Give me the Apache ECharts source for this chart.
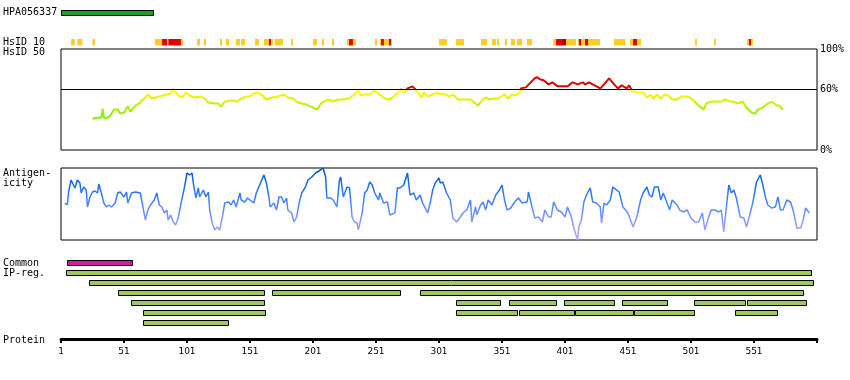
<!DOCTYPE html>
<html><head><meta charset="utf-8">
<script src="https://cdn.jsdelivr.net/npm/echarts@6/dist/echarts.min.js"></script>
<style>html,body{margin:0;padding:0;background:#fff}#c{width:850px;height:380px}</style>
</head><body><div id="c"></div>
<script>
// ---- data (residue positions) ----
const proteinRange = [1, 601];
const tickValues = [1, 51, 101, 151, 201, 251, 301, 351, 401, 451, 501, 551, 601];
const tickLabels = [1, 51, 101, 151, 201, 251, 301, 351, 401, 451, 501, 551];
const hpaBar = [[1, 74]];
// HsID 10 strip: [start, end, level] level 1 = gold, 2 = red, 3 = dark red
const hsid10 = [
  [9,12,1],[14,18,1],[26,28,1],[75.6,81.2,1],[81.2,85.4,2],[85.4,86.2,1],[86.2,96.2,2],[96.2,97.8,1],
  [108.9,111.3,1],[114.5,116.1,1],[127.2,128.8,1],[131.9,134.3,1],[139.9,143,1],[143.9,147,1],
  [155,158.1,1],[162.1,166.1,1],[166.1,167.7,2],[167.7,169.3,1],[170.8,177.2,1],[183.5,185.1,1],
  [201,204.2,1],[208.1,209.7,1],[216.1,217.7,1],[228,229.6,1],[229.6,232.7,2],[232.7,235.1,1],
  [250.2,251.8,1],[254.2,255,1],[255,257.3,2],[257.3,261.3,1],[261.3,262.9,2],[262.9,263.7,1],
  [301,307.3,1],[314.5,320.8,1],[334.3,339.1,1],[343.1,346.2,1],[347,348.6,1],[353.4,355,1],
  [358.1,361.3,1],[362.9,366.9,1],[370.8,374.8,1],[391.5,393.9,1],[393.9,399.4,2],[399.4,401.8,3],
  [401.8,409.7,1],[411.3,412,1],[412,413.7,2],[413.7,416.9,1],[416.9,419.3,2],[419.3,428.8,1],
  [439.9,448.6,1],[452.6,455,1],[455,458.1,2],[458.1,461.3,1],[504.2,505.8,1],[519.3,520.8,1],
  [545.4,547,1],[547,548.6,2],[548.6,550.2,1]
];
// HsID 50 identity (%)
const hsid50 = [
  [26,31],[30,32],[33,32],[34,41],[35,32],[38,32],[40,34],[43,40],[46,40],[48,36],[51,37],[53,41],[54,43],
  [56,38],[58,41],[60,44],[63,46],[66,50],[68,52],[70,55],[73,51],[76,52],[79,53],[82,54],[84,55],[87,55],
  [90,60],[92,57],[95,53],[98,53],[100,57],[103,54],[107,52],[112,53],[115,51],[118,47],[122,46],[126,46],
  [128,43],[131,48],[135,49],[138,49],[141,48],[144,51],[148,53],
  [151,53],[154,56],[157,57],[161,54],[164,50],[168,52],[173,53],[178,55],[181,52],[185,51],[189,47],
  [192,46],[196,45],[201,42],[204,40],[208,47],[213,50],[217,48],[221,50],[225,50],[229,51],[233,54],
  [237,59],[239,54],[242,55],[246,55],[250,59],[254,55],[258,51],[262,50],[266,54],[271,60],[274,57],
  [276,61],[280,63],[283,59],[287,52],[289,57],[292,53],[296,55],[300,57],
  [302,55],[304,56],[309,53],[312,55],[316,50],[321,50],[326,50],[329,47],[332,44],[335,49],[338,52],
  [341,50],[345,51],[348,51],[353,55],[356,51],[359,55],[362,54],[365,57],[366,61],[370,62],[373,66],
  [377,71],[379,72],[381,70],[384,69],[388,65],[391,67],[395,63],[399,63],[403,63],[407,67],[411,65],
  [415,67],[417,65],[420,67],[423,65],[426,63],[429,61],[432,65],[436,71],[440,65],[443,61],[446,64],
  [450,61],[452,64],
  [454,59],[457,57],[460,57],[463,57],[466,52],[469,55],[471,51],[474,55],[477,51],[480,55],[483,54],
  [486,50],[490,50],[494,53],[499,53],[503,49],[507,44],[511,40],[513,46],[517,48],[521,48],[525,48],
  [528,50],[532,48],[535,48],[538,46],[542,48],[545,42],[549,37],[552,36],[554,40],[558,42],[562,46],
  [565,48],[569,44],[571,44],[574,40]
];
// Antigenicity (relative units, 0 = bottom of box)
const antigenicity = [
  [4,37],[6,35],[7,48],[9,60],[10,59],[12,52],[14,60],[16,57],[17,47],[19,53],[21,50],[22,33],[24,43],
  [26,48],[28,49],[30,47],[31,56],[33,47],[35,37],[37,33],[39,35],[41,33],[44,37],[46,47],[48,48],[51,43],
  [53,48],[54,37],[57,47],[60,48],[64,47],[66,33],[68,20],[70,30],[72,35],[75,40],[77,47],[79,35],[81,33],
  [83,27],[85,30],[86,20],[88,25],[90,18],[92,15],[94,22],[96,35],[98,47],[99,53],[101,67],[103,65],
  [105,67],[106,57],[108,42],[110,52],[111,43],[114,50],[116,43],[118,48],[119,30],[121,17],[123,10],
  [125,13],[127,10],[129,23],[131,37],[134,38],[136,35],[138,40],[140,33],[143,47],[144,40],[147,38],
  [149,42],[151,40],[154,37],[156,47],[158,53],[162,65],[164,57],[166,43],[167,33],[170,37],[172,30],
  [174,43],[176,43],[178,37],[180,42],[181,30],[184,27],[186,18],[188,23],[190,37],[192,47],[195,53],
  [197,60],[200,63],[203,67],[204,68],[207,70],[209,72],[211,63],[212,42],[215,42],[217,40],[220,33],
  [222,60],[223,63],[225,43],[228,53],[230,52],[232,23],[234,18],[236,17],[237,10],[240,27],[242,47],
  [244,50],[246,58],[248,55],[250,47],[253,40],[254,47],[257,37],[260,38],[262,25],[263,23],[266,27],
  [268,52],[270,52],[273,55],[276,67],[278,45],[281,47],[283,40],[286,45],[288,37],
  [292,27],[294,37],[296,50],[298,57],[301,62],[302,57],[304,58],[307,47],[308,48],[310,40],[312,22],
  [315,18],[318,23],[320,27],[323,30],[326,40],[327,18],[330,33],[331,25],[334,35],[336,38],[338,30],
  [340,40],[343,35],[346,45],[349,50],[351,55],[353,40],[355,30],[358,32],[361,38],[364,42],[367,37],
  [371,38],[372,48],[375,32],[377,22],[380,23],[383,18],[385,30],[388,23],[390,23],[392,38],[395,30],
  [398,28],[401,23],[403,33],[406,23],[408,12],[411,0],[412,13],[414,20],[416,38],[418,45],[421,52],
  [423,38],[426,37],[429,33],[430,17],[432,37],[434,35],[437,40],[439,53],[442,50],[444,48],[447,33],
  [451,27],[455,13],[458,23],[461,40],[463,47],[466,53],[468,45],[470,43],[472,53],[475,53],[477,40],
  [479,47],[482,37],[484,30],[486,40],[490,35],[492,30],[495,28],[498,30],[501,22],[504,18],[507,18],
  [510,27],[512,10],[515,23],[517,30],[520,30],[523,28],[525,30],[527,8],[529,32],[531,55],[533,47],
  [535,50],[537,42],[540,23],[543,22],[545,13],[547,22],[550,37],[553,58],[556,65],[558,55],[560,43],
  [562,35],[565,32],[568,33],[570,43],[572,30],[574,30],[577,40],[580,38],[582,30],[585,12],[588,12],
  [590,20],[592,32],[595,27]
];
// Common region (row 0) and IP regions (rows 1..6): [start, end, row]
const commonRegions = [[5.5, 57, 0]];
const ipRegions = [
  [4.7,596,1],
  [23,597.5,2],
  [46.5,162,3],[168.7,270.6,3],[286,590,3],
  [56.8,162.7,4],[314.7,350,4],[356.8,394.4,4],[400.4,440.4,4],[446.5,482.5,4],[503.6,544.4,4],[545.7,592.8,4],
  [66.3,163.5,5],[314.7,363.5,5],[364.7,408,5],[408.7,454.7,5],[455.5,503,5],[536.2,569.8,5],
  [66.3,134.1,6]
];
const sideLabels = [
  ['HPA056337', 12], ['HsID 10', 42.5], ['HsID 50', 52.5], ['Antigen-', 173.5], ['icity', 183.5],
  ['Common', 263], ['IP-reg.', 273.5], ['Protein', 340]
];

// ---- chart ----
const MONO = 'DejaVu Sans Mono';
const L = 61, R = 33;
function grid(top, height, border) {
  return { left: L, right: R, top: top, height: height, show: !!border, borderColor: '#000', borderWidth: 1, backgroundColor: 'transparent' };
}
const grids = [
  grid(9.5, 5),      // 0 HPA
  grid(39, 6.5),     // 1 HsID10 strip
  grid(49, 101, true), // 2 HsID50
  grid(168, 72, true), // 3 antigenicity
  grid(257.5, 70),   // 4 regions
  grid(300, 39)      // 5 protein axis
];
const xAxes = grids.map((g, i) => ({
  type: 'value', gridIndex: i, min: proteinRange[0], max: proteinRange[1],
  show: i === 5,
  axisLine: { show: i === 5, lineStyle: { color: '#000', width: 3 } },
  axisTick: { show: i === 5, customValues: tickValues, length: 4, lineStyle: { color: '#000', width: 2 } },
  axisLabel: { show: i === 5, customValues: tickLabels, margin: 8, color: '#000', fontFamily: 'DejaVu Sans', fontSize: 9 },
  splitLine: { show: false }
}));
const yAxes = [
  { type: 'value', gridIndex: 0, min: 0, max: 1, show: false },
  { type: 'value', gridIndex: 1, min: 0, max: 1, show: false },
  { type: 'value', gridIndex: 2, min: 0, max: 100, interval: 20, position: 'right',
    axisLine: { show: false }, axisTick: { show: false }, splitLine: { show: false },
    axisLabel: { margin: 3, color: '#000', fontFamily: MONO, fontSize: 10, padding: [3, 0, 0, 0],
      formatter: v => (v === 0 || v === 60 || v === 100) ? v + '%' : '' } },
  { type: 'value', gridIndex: 3, min: 0, max: 72, show: false },
  { type: 'value', gridIndex: 4, min: -0.5, max: 6.5, inverse: true, show: false },
  { type: 'value', gridIndex: 5, min: 0, max: 1, show: false }
];

function barRenderer(fill, frac) {
  return function (params, api) {
    const s = api.value(0), e = api.value(1), row = api.value(2);
    const p0 = api.coord([s, row]), p1 = api.coord([e, row]);
    const h = Math.abs(api.size([0, 1])[1]) * frac;
    return { type: 'rect', shape: { x: Math.round(p0[0]) + 0.5, y: Math.round(p0[1] - h / 2) + 0.5, width: Math.round(p1[0] - p0[0]), height: Math.round(h) },
      style: { fill: fill, stroke: '#000', lineWidth: 1 } };
  };
}
const stripColors = { 1: '#ffcc22', 2: '#e00000', 3: '#a00000' };

const option = {
  animation: false,
  backgroundColor: '#fff',
  grid: grids,
  xAxis: xAxes,
  yAxis: yAxes,
  visualMap: [
    { type: 'piecewise', show: false, seriesIndex: 2, dimension: 1,
      pieces: [
        { gt: 60.2, color: '#e00000' },
        { gt: 56, lte: 60.2, color: '#ffff00' },
        { gt: 52, lte: 56, color: '#f2f600' },
        { gt: 48, lte: 52, color: '#e0f200' },
        { gt: 44, lte: 48, color: '#c8ee00' },
        { gt: 40, lte: 44, color: '#b0ee00' },
        { gt: 36, lte: 40, color: '#9cee00' },
        { lte: 36, color: '#88ee00' }
      ] },
    { type: 'continuous', show: false, seriesIndex: 4, dimension: 1, min: 0, max: 72,
      inRange: { color: ['#b8a8ff', '#8a99ff', '#4a86ff', '#1a6ff0', '#0050c8'] } }
  ],
  series: [
    { type: 'custom', xAxisIndex: 0, yAxisIndex: 0, data: hpaBar.map(d => [d[0], d[1], 0.5]),
      renderItem: barRenderer('#22a022', 1), silent: true },
    { type: 'custom', xAxisIndex: 1, yAxisIndex: 1, data: hsid10, silent: true,
      renderItem: function (params, api) {
        const p0 = api.coord([api.value(0), 1]), p1 = api.coord([api.value(1), 0]);
        return { type: 'rect', shape: { x: p0[0], y: p0[1], width: p1[0] - p0[0], height: p1[1] - p0[1] },
          style: { fill: stripColors[api.value(2)] } };
      } },
    { type: 'line', xAxisIndex: 2, yAxisIndex: 2, data: hsid50, showSymbol: false, symbol: 'none',
      lineStyle: { width: 2 }, silent: true },
    { type: 'line', xAxisIndex: 2, yAxisIndex: 2, data: [], silent: true,
      markLine: { silent: true, symbol: 'none', label: { show: false }, lineStyle: { color: '#000', width: 1, type: 'solid' },
        data: [{ yAxis: 60 }] } },
    { type: 'line', xAxisIndex: 3, yAxisIndex: 3, data: antigenicity, showSymbol: false, symbol: 'none',
      lineStyle: { width: 1.5 }, silent: true },
    { type: 'custom', xAxisIndex: 4, yAxisIndex: 4, data: commonRegions, renderItem: barRenderer('#cc2299', 0.45), silent: true },
    { type: 'custom', xAxisIndex: 4, yAxisIndex: 4, data: ipRegions, renderItem: barRenderer('#a0c860', 0.45), silent: true }
  ],
  graphic: sideLabels.map(l => ({
    type: 'text', left: 3, top: l[1] - 5,
    style: { text: l[0], fill: '#000', font: '10px "' + MONO + '"' }
  }))
};
const chart = echarts.init(document.getElementById('c'), null, { renderer: 'canvas' });
chart.setOption(option);
</script></body></html>
